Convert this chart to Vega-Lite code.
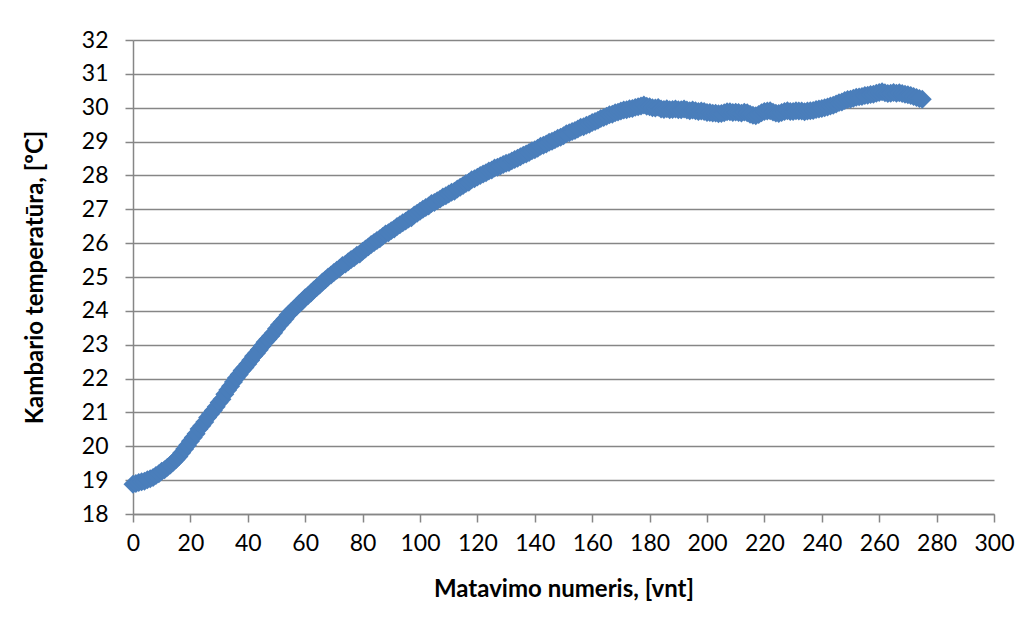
{
  "$schema": "https://vega.github.io/schema/vega-lite/v6.json",
  "width": 861,
  "height": 474,
  "autosize": {"type": "none"},
  "padding": {"left": 133, "top": 40, "right": 37, "bottom": 115},
  "background": "white",
  "config": {
    "view": {"stroke": null},
    "font": "Lato"
  },
  "data": {
    "values": [
      {"n":0,"t":18.88},{"n":1,"t":18.90},{"n":2,"t":18.93},{"n":3,"t":18.95},{"n":4,"t":18.97},{"n":5,"t":19.01},{"n":6,"t":19.04},{"n":7,"t":19.08},{"n":8,"t":19.14},{"n":9,"t":19.19},
      {"n":10,"t":19.26},{"n":11,"t":19.31},{"n":12,"t":19.38},{"n":13,"t":19.45},{"n":14,"t":19.53},{"n":15,"t":19.61},{"n":16,"t":19.70},{"n":17,"t":19.81},{"n":18,"t":19.92},{"n":19,"t":20.03},
      {"n":20,"t":20.15},{"n":21,"t":20.26},{"n":22,"t":20.37},{"n":23,"t":20.51},{"n":24,"t":20.61},{"n":25,"t":20.72},{"n":26,"t":20.85},{"n":27,"t":20.95},{"n":28,"t":21.06},{"n":29,"t":21.17},
      {"n":30,"t":21.29},{"n":31,"t":21.39},{"n":32,"t":21.54},{"n":33,"t":21.66},{"n":34,"t":21.77},{"n":35,"t":21.90},{"n":36,"t":22.02},{"n":37,"t":22.12},{"n":38,"t":22.24},{"n":39,"t":22.33},
      {"n":40,"t":22.43},{"n":41,"t":22.54},{"n":42,"t":22.66},{"n":43,"t":22.75},{"n":44,"t":22.85},{"n":45,"t":22.96},{"n":46,"t":23.07},{"n":47,"t":23.16},{"n":48,"t":23.26},{"n":49,"t":23.35},
      {"n":50,"t":23.47},{"n":51,"t":23.58},{"n":52,"t":23.67},{"n":53,"t":23.77},{"n":54,"t":23.88},{"n":55,"t":23.97},{"n":56,"t":24.05},{"n":57,"t":24.13},{"n":58,"t":24.22},{"n":59,"t":24.29},
      {"n":60,"t":24.39},{"n":61,"t":24.45},{"n":62,"t":24.53},{"n":63,"t":24.62},{"n":64,"t":24.69},{"n":65,"t":24.76},{"n":66,"t":24.85},{"n":67,"t":24.92},{"n":68,"t":25.00},{"n":69,"t":25.06},
      {"n":70,"t":25.13},{"n":71,"t":25.20},{"n":72,"t":25.26},{"n":73,"t":25.34},{"n":74,"t":25.38},{"n":75,"t":25.45},{"n":76,"t":25.52},{"n":77,"t":25.57},{"n":78,"t":25.64},{"n":79,"t":25.68},
      {"n":80,"t":25.76},{"n":81,"t":25.83},{"n":82,"t":25.89},{"n":83,"t":25.96},{"n":84,"t":26.02},{"n":85,"t":26.08},{"n":86,"t":26.13},{"n":87,"t":26.20},{"n":88,"t":26.27},{"n":89,"t":26.31},
      {"n":90,"t":26.37},{"n":91,"t":26.42},{"n":92,"t":26.49},{"n":93,"t":26.54},{"n":94,"t":26.60},{"n":95,"t":26.65},{"n":96,"t":26.71},{"n":97,"t":26.75},{"n":98,"t":26.83},{"n":99,"t":26.88},
      {"n":100,"t":26.94},{"n":101,"t":27.00},{"n":102,"t":27.05},{"n":103,"t":27.10},{"n":104,"t":27.17},{"n":105,"t":27.20},{"n":106,"t":27.25},{"n":107,"t":27.30},{"n":108,"t":27.36},{"n":109,"t":27.40},
      {"n":110,"t":27.45},{"n":111,"t":27.50},{"n":112,"t":27.53},{"n":113,"t":27.60},{"n":114,"t":27.65},{"n":115,"t":27.70},{"n":116,"t":27.76},{"n":117,"t":27.80},{"n":118,"t":27.87},{"n":119,"t":27.90},
      {"n":120,"t":27.95},{"n":121,"t":28.00},{"n":122,"t":28.04},{"n":123,"t":28.08},{"n":124,"t":28.13},{"n":125,"t":28.16},{"n":126,"t":28.22},{"n":127,"t":28.24},{"n":128,"t":28.28},{"n":129,"t":28.32},
      {"n":130,"t":28.36},{"n":131,"t":28.38},{"n":132,"t":28.43},{"n":133,"t":28.47},{"n":134,"t":28.51},{"n":135,"t":28.55},{"n":136,"t":28.60},{"n":137,"t":28.63},{"n":138,"t":28.68},{"n":139,"t":28.73},
      {"n":140,"t":28.76},{"n":141,"t":28.80},{"n":142,"t":28.86},{"n":143,"t":28.89},{"n":144,"t":28.93},{"n":145,"t":28.98},{"n":146,"t":29.01},{"n":147,"t":29.05},{"n":148,"t":29.10},{"n":149,"t":29.13},
      {"n":150,"t":29.17},{"n":151,"t":29.23},{"n":152,"t":29.26},{"n":153,"t":29.30},{"n":154,"t":29.33},{"n":155,"t":29.37},{"n":156,"t":29.42},{"n":157,"t":29.44},{"n":158,"t":29.48},{"n":159,"t":29.51},
      {"n":160,"t":29.56},{"n":161,"t":29.59},{"n":162,"t":29.63},{"n":163,"t":29.68},{"n":164,"t":29.71},{"n":165,"t":29.75},{"n":166,"t":29.79},{"n":167,"t":29.81},{"n":168,"t":29.85},{"n":169,"t":29.87},
      {"n":170,"t":29.90},{"n":171,"t":29.93},{"n":172,"t":29.94},{"n":173,"t":29.97},{"n":174,"t":29.98},{"n":175,"t":30.01},{"n":176,"t":30.03},{"n":177,"t":30.05},{"n":178,"t":30.08},{"n":179,"t":30.04},
      {"n":180,"t":30.03},{"n":181,"t":30.00},{"n":182,"t":29.99},{"n":183,"t":30.01},{"n":184,"t":29.96},{"n":185,"t":29.95},{"n":186,"t":29.97},{"n":187,"t":29.94},{"n":188,"t":29.95},{"n":189,"t":29.96},
      {"n":190,"t":29.94},{"n":191,"t":29.94},{"n":192,"t":29.96},{"n":193,"t":29.93},{"n":194,"t":29.91},{"n":195,"t":29.93},{"n":196,"t":29.91},{"n":197,"t":29.89},{"n":198,"t":29.90},{"n":199,"t":29.89},
      {"n":200,"t":29.86},{"n":201,"t":29.86},{"n":202,"t":29.84},{"n":203,"t":29.84},{"n":204,"t":29.82},{"n":205,"t":29.83},{"n":206,"t":29.85},{"n":207,"t":29.88},{"n":208,"t":29.88},{"n":209,"t":29.86},
      {"n":210,"t":29.87},{"n":211,"t":29.86},{"n":212,"t":29.84},{"n":213,"t":29.87},{"n":214,"t":29.85},{"n":215,"t":29.81},{"n":216,"t":29.78},{"n":217,"t":29.76},{"n":218,"t":29.80},{"n":219,"t":29.85},
      {"n":220,"t":29.89},{"n":221,"t":29.90},{"n":222,"t":29.91},{"n":223,"t":29.87},{"n":224,"t":29.84},{"n":225,"t":29.83},{"n":226,"t":29.86},{"n":227,"t":29.89},{"n":228,"t":29.91},{"n":229,"t":29.89},
      {"n":230,"t":29.89},{"n":231,"t":29.91},{"n":232,"t":29.90},{"n":233,"t":29.90},{"n":234,"t":29.88},{"n":235,"t":29.90},{"n":236,"t":29.91},{"n":237,"t":29.92},{"n":238,"t":29.95},{"n":239,"t":29.96},
      {"n":240,"t":29.98},{"n":241,"t":30.00},{"n":242,"t":30.02},{"n":243,"t":30.05},{"n":244,"t":30.07},{"n":245,"t":30.11},{"n":246,"t":30.15},{"n":247,"t":30.17},{"n":248,"t":30.21},{"n":249,"t":30.24},
      {"n":250,"t":30.25},{"n":251,"t":30.28},{"n":252,"t":30.31},{"n":253,"t":30.32},{"n":254,"t":30.33},{"n":255,"t":30.36},{"n":256,"t":30.37},{"n":257,"t":30.39},{"n":258,"t":30.40},{"n":259,"t":30.43},
      {"n":260,"t":30.45},{"n":261,"t":30.47},{"n":262,"t":30.44},{"n":263,"t":30.42},{"n":264,"t":30.43},{"n":265,"t":30.45},{"n":266,"t":30.43},{"n":267,"t":30.44},{"n":268,"t":30.42},{"n":269,"t":30.40},
      {"n":270,"t":30.38},{"n":271,"t":30.36},{"n":272,"t":30.33},{"n":273,"t":30.30},{"n":274,"t":30.27},{"n":275,"t":30.25}
    ]
  },
  "mark": {"type": "point", "shape": "diamond", "filled": true, "size": 360, "color": "#4A7EBB", "opacity": 1},
  "encoding": {
    "x": {
      "field": "n", "type": "quantitative",
      "scale": {"domain": [0, 300], "nice": false, "zero": false},
      "axis": {
        "values": [0,20,40,60,80,100,120,140,160,180,200,220,240,260,280,300],
        "title": "Matavimo numeris, [vnt]",
        "grid": false,
        "domainColor": "#868686", "domainWidth": 1.5,
        "tickColor": "#868686", "tickWidth": 1.5, "tickSize": 8,
        "labelFont": "Lato", "labelFontSize": 23, "labelColor": "#000000", "labelPadding": 10,
        "labelFlush": false, "labelOverlap": false,
        "titleFont": "Lato", "titleFontSize": 24, "titleFontWeight": "bold", "titleColor": "#000000", "titlePadding": 22
      }
    },
    "y": {
      "field": "t", "type": "quantitative",
      "scale": {"domain": [18, 32], "nice": false, "zero": false},
      "axis": {
        "values": [18,19,20,21,22,23,24,25,26,27,28,29,30,31,32],
        "title": "Kambario temperatūra, [ºC]",
        "grid": true, "gridColor": "#868686", "gridWidth": 1.5,
        "domainColor": "#868686", "domainWidth": 1.5,
        "tickColor": "#868686", "tickWidth": 1.5, "tickSize": 8,
        "labelFont": "Lato", "labelFontSize": 23, "labelColor": "#000000", "labelPadding": 17,
        "labelFlush": false, "labelOverlap": false,
        "titleFont": "Lato", "titleFontSize": 24, "titleFontWeight": "bold", "titleColor": "#000000", "titlePadding": 34
      }
    }
  }
}
